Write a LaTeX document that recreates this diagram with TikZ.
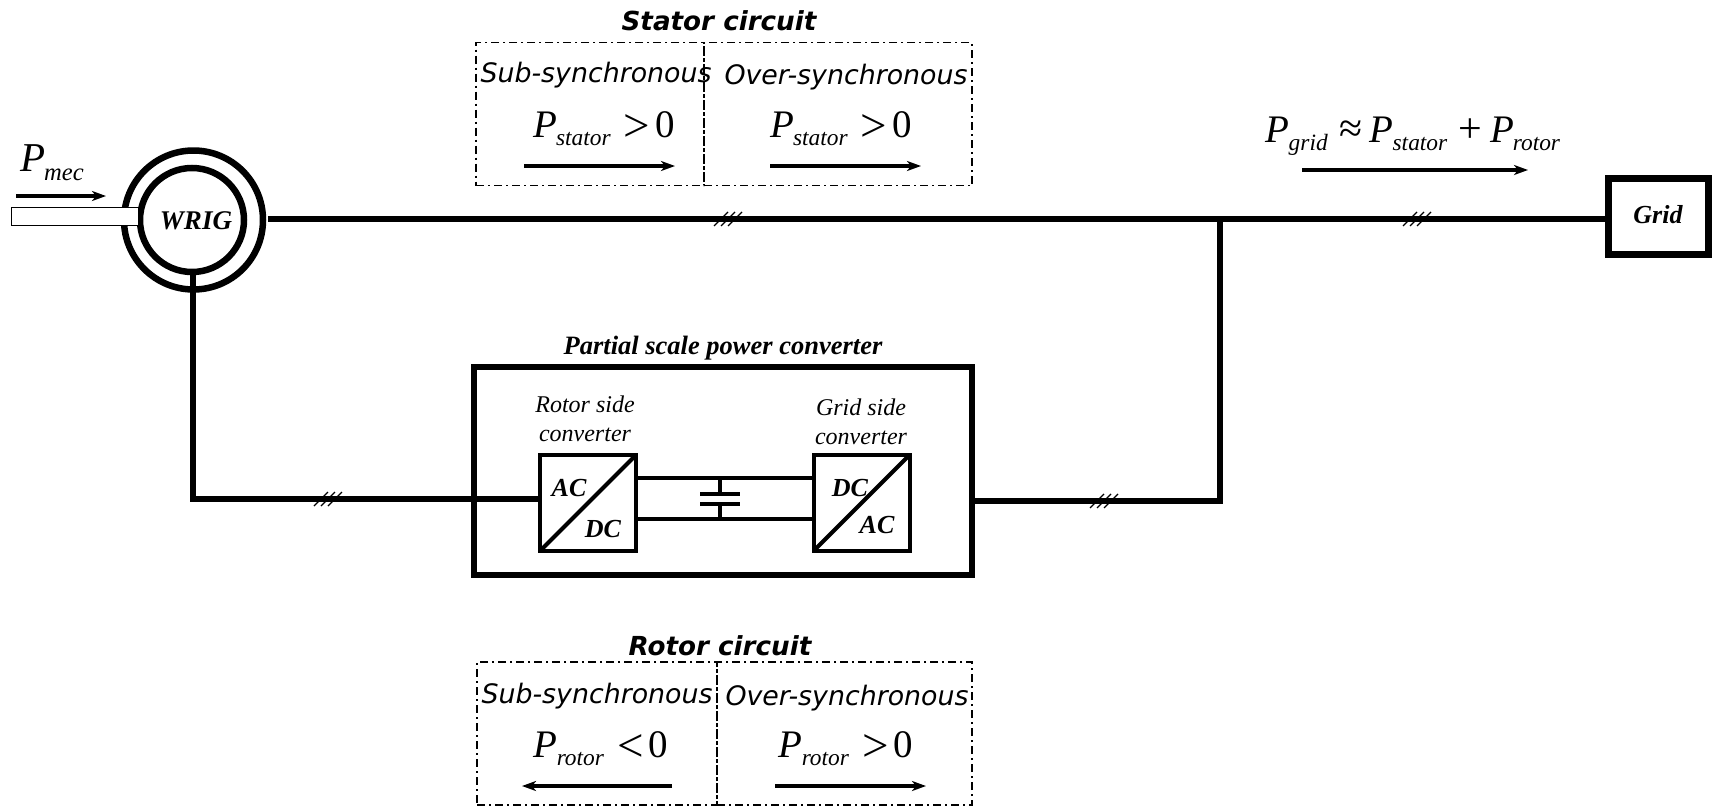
\documentclass[tikz,border=0pt]{standalone}
\usepackage{fontspec}
\setmainfont{Liberation Serif}
\newfontfamily\labelsans{DejaVu Sans}
\usetikzlibrary{arrows.meta}
\newcommand{\Pwr}[1]{\textit{P}\kern-1pt\raisebox{-.23em}{\scalebox{.6}{\textit{#1}}}}
\newcommand{\Rel}[1]{\kern13pt\raisebox{-4pt}{\fontsize{47}{47}\selectfont #1}\kern5pt}
\newcommand{\Opr}[1]{{\fontsize{42}{42}\selectfont #1}}
\tikzset{
  heavy/.style={line width=6pt},
  flow/.style={line width=3.5pt,-{Stealth[length=14pt,width=10pt,inset=4pt]}},
  dashbox/.style={draw,rectangle,outer sep=0pt,line width=1.6pt,dash pattern=on 8pt off 4pt on 2pt off 4pt},
  convbox/.style={draw,rectangle,outer sep=0pt,line width=4pt,minimum width=96pt,minimum height=96pt},
  sanslabel/.style={font=\labelsans\itshape\fontsize{26.8}{27}\selectfont},
  sanstitle/.style={font=\labelsans\bfseries\itshape\fontsize{26.2}{27}\selectfont},
  serifbold/.style={font=\bfseries\itshape\fontsize{26}{26}\selectfont},
  serifplain/.style={font=\itshape\fontsize{24}{29}\selectfont,align=center},
  powerlabel/.style={anchor=base,font=\fontsize{39}{39}\selectfont},
  pics/hash/.style={code={
    \foreach \k in {-7,0,7} \draw[line width=1.2pt] (\k-7,7) -- (\k+7,-7);
  }}
}
\begin{document}
\begin{tikzpicture}[x=1pt,y=-1pt]
\useasboundingbox (0,0) rectangle (1712,806);

\node[draw,circle,line width=6.5pt,outer sep=0pt,minimum size=139pt] (stator) at (193.5,220) {};
\node[draw,circle,line width=6.5pt,outer sep=0pt,minimum size=104pt] (rotor) at (192,220) {};
\node[draw,rectangle,fill=white,outer sep=0pt,line width=1.5pt,minimum width=127pt,minimum height=18pt] (shaft) at (75,216.5) {};
\node[font=\bfseries\itshape\fontsize{27}{27}\selectfont] (wrig) at (196,221) {WRIG};
\node[powerlabel,font=\fontsize{41}{41}\selectfont] (pmec) at (52,171) {\Pwr{mec}};
\coordinate (mecstart) at (16,196);
\coordinate (mecend) at (106,196);
\draw[flow] (mecstart) -- (mecend);

\node[draw,rectangle,line width=7pt,outer sep=0pt,minimum width=100pt,minimum height=76pt] (grid) at (1658,216) {};
\node[serifbold] (gridtext) at (1658,215) {Grid};
\node[powerlabel] (pgrid) at (1413,142) {\Pwr{grid}\kern12pt\Opr{≈}\kern7pt\Pwr{stator}\kern11pt\Opr{+}\kern8pt\Pwr{rotor}};
\coordinate (gridstart) at (1302,170);
\coordinate (gridend) at (1528,170);
\draw[flow] (gridstart) -- (gridend);

\node[draw,rectangle,line width=5.5pt,outer sep=0pt,minimum width=498pt,minimum height=208pt] (conv) at (723,471) {};
\node[font=\bfseries\itshape\fontsize{26.5}{26.5}\selectfont] (convtitle) at (723,348) {Partial scale power converter};
\node[convbox] (rsc) at (588,503) {};
\node[convbox] (gsc) at (861.5,503) {};
\draw[line width=4pt] (rsc.south west) -- (rsc.north east);
\draw[line width=4pt] (gsc.south west) -- (gsc.north east);
\node[serifplain] (rsctext) at (585,419) {Rotor side\\converter};
\node[serifplain] (gsctext) at (861,422) {Grid side\\converter};
\node[serifbold] (rscac) at (569,488) {AC};
\node[serifbold] (rscdc) at (603,529) {DC};
\node[serifbold] (gscdc) at (850,488) {DC};
\node[serifbold] (gscac) at (877,525) {AC};

\coordinate (linktop) at (720,478);
\coordinate (linkbot) at (720,519);
\coordinate (platetop) at (720,494);
\coordinate (platebot) at (720,504);
\draw[line width=3.5pt] (linktop -| rsc.east) -- (linktop -| gsc.west);
\draw[line width=3.5pt] (linkbot -| rsc.east) -- (linkbot -| gsc.west);
\draw[line width=3.5pt] (linktop) -- (platetop);
\draw[line width=3.5pt] (linkbot) -- (platebot);
\draw[line width=4pt] ([xshift=-20pt]platetop) -- ([xshift=20pt]platetop);
\draw[line width=4pt] ([xshift=-20pt]platebot) -- ([xshift=20pt]platebot);

\coordinate (junction) at (1220,218.5);
\coordinate (gridbend) at (1220,501);
\coordinate (rotorbend) at (193,499);
\draw[heavy] ([xshift=5pt]stator.east |- junction) -- (junction) -- (junction -| grid.west);
\draw[heavy,line join=miter] (junction) -- (gridbend) -- (gridbend -| conv.east);
\draw[heavy,line join=miter] (rotor.south -| rotorbend) -- (rotorbend) -- (rotorbend -| rsc.west);
\pic at (728,219) {hash};
\pic at (1417,219) {hash};
\pic at (1104,501) {hash};
\pic at (328,499) {hash};

\node[sanstitle] (statortitle) at (719,21) {Stator circuit};
\node[dashbox,minimum width=228pt,minimum height=143pt] (statorsub) at (590,114) {};
\node[dashbox,minimum width=268pt,minimum height=143pt] (statorover) at (838,114) {};
\node[sanslabel] (statorsubtext) at (596,75) {Sub-synchronous};
\node[sanslabel] (statorovertext) at (846,77) {Over-synchronous};
\node[powerlabel] (statorsubp) at (604,137) {\Pwr{stator}\Rel{>}0};
\node[powerlabel] (statoroverp) at (841,137) {\Pwr{stator}\Rel{>}0};
\coordinate (ssa) at (524,166);
\coordinate (ssb) at (675,166);
\coordinate (soa) at (770,166);
\coordinate (sob) at (921,166);
\draw[flow] (ssa) -- (ssb);
\draw[flow] (soa) -- (sob);

\node[sanstitle] (rotortitle) at (720,646) {Rotor circuit};
\node[dashbox,minimum width=240pt,minimum height=143pt] (rotorsub) at (597,733.5) {};
\node[dashbox,minimum width=255pt,minimum height=143pt] (rotorover) at (844.5,733.5) {};
\node[sanslabel] (rotorsubtext) at (597,696) {Sub-synchronous};
\node[sanslabel] (rotorovertext) at (847,698) {Over-synchronous};
\node[powerlabel] (rotorsubp) at (601,757) {\Pwr{rotor}\Rel{<}0};
\node[powerlabel] (rotoroverp) at (846,757) {\Pwr{rotor}\Rel{>}0};
\coordinate (rsa) at (672,786);
\coordinate (rsb) at (522,786);
\coordinate (roa) at (775,786);
\coordinate (rob) at (926,786);
\draw[flow] (rsa) -- (rsb);
\draw[flow] (roa) -- (rob);
\end{tikzpicture}
\end{document}
